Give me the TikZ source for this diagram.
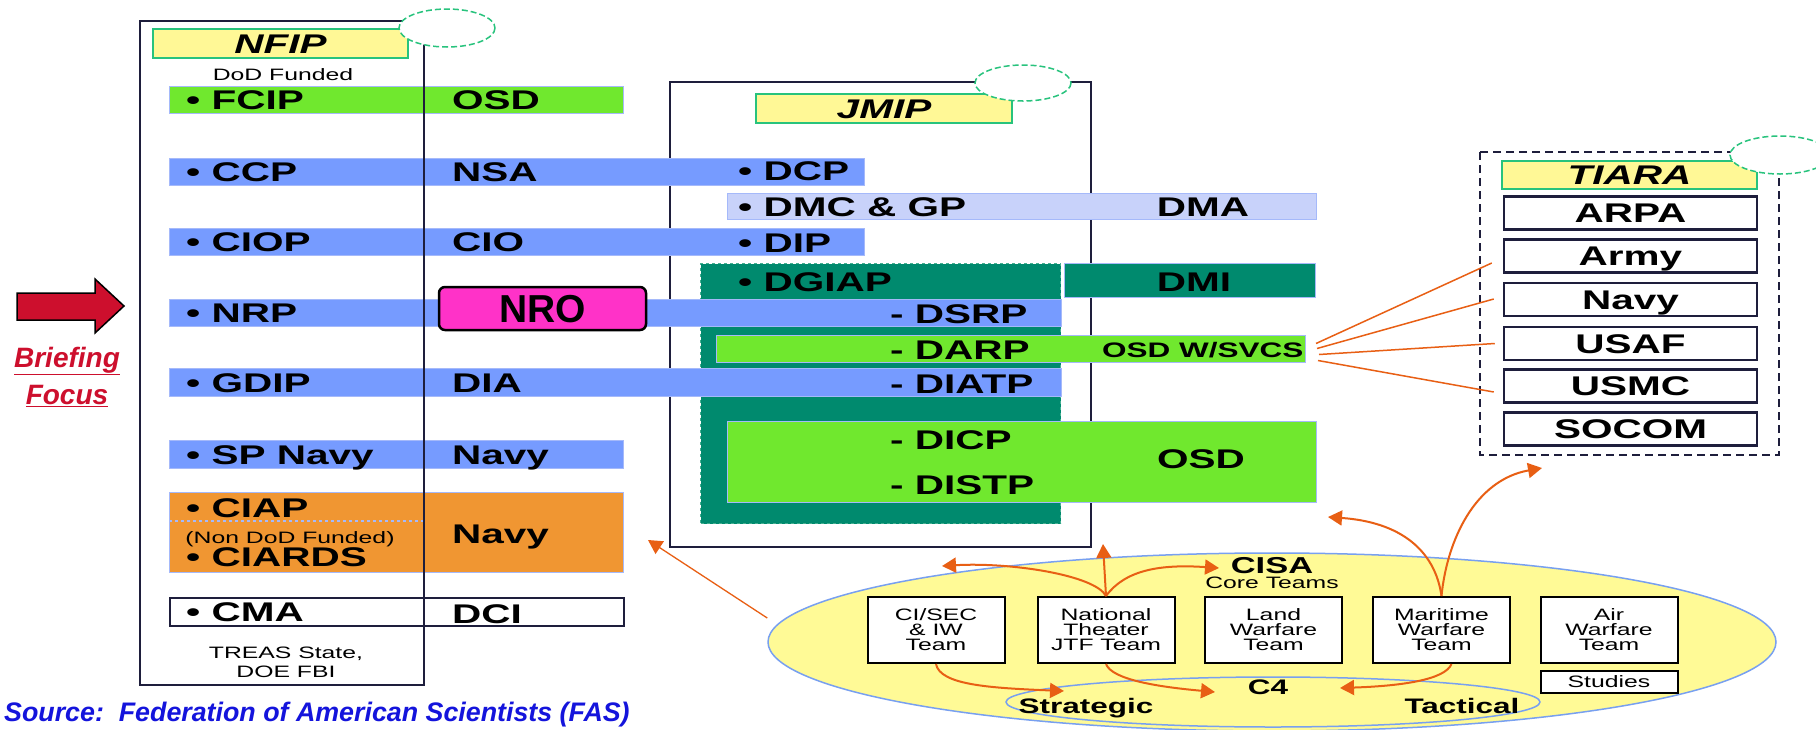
\documentclass[tikz,border=0pt]{standalone}
\usepackage{fontspec}
\setmainfont{Liberation Sans}
\newfontfamily\widefont[FakeStretch=1.5]{Liberation Sans}
\usetikzlibrary{arrows.meta,shapes.geometric}
\definecolor{barblue}{RGB}{118,155,255}
\definecolor{edgeblue}{RGB}{165,185,250}
\definecolor{limegreen}{RGB}{112,232,46}
\definecolor{lavender}{RGB}{200,210,250}
\definecolor{tealfill}{RGB}{0,138,110}
\definecolor{tealedge}{RGB}{70,175,145}
\definecolor{orangebox}{RGB}{240,150,50}
\definecolor{nromagenta}{RGB}{255,50,200}
\definecolor{titleyellow}{RGB}{255,248,150}
\definecolor{tabgreen}{RGB}{40,195,125}
\definecolor{framegray}{RGB}{30,30,60}
\definecolor{cisayellow}{RGB}{255,250,150}
\definecolor{ellblue}{RGB}{120,160,240}
\definecolor{arroworange}{RGB}{232,95,20}
\definecolor{briefred}{RGB}{205,15,45}
\definecolor{sourceblue}{RGB}{20,20,220}
\newcommand{\rowlabelfont}{\widefont\bfseries\fontsize{27}{29}\selectfont}
\newcommand{\tabheadfont}{\widefont\bfseries\itshape\fontsize{27}{29}\selectfont}
\newcommand{\notefont}{\widefont\fontsize{16.5}{18}\selectfont}
\newcommand{\teamlabelfont}{\widefont\fontsize{16.5}{15}\selectfont}
\newcommand{\cisafont}{\widefont\bfseries\fontsize{21}{22}\selectfont}
\newcommand{\cisaheadfont}{\widefont\bfseries\fontsize{23}{24}\selectfont}
\newcommand{\svcsfont}{\widefont\bfseries\fontsize{21}{22}\selectfont}
\newcommand{\nrofont}{\bfseries\fontsize{39}{40}\selectfont}
\newcommand{\focusfont}{\bfseries\itshape\fontsize{28}{30}\selectfont}
\newcommand{\sourcefont}{\bfseries\itshape\fontsize{26.8}{28}\selectfont}

\begin{document}
\begin{tikzpicture}[x=1pt, y=-1pt,
	 barnode/.style={draw=edgeblue, line width=1pt, inner sep=0pt, anchor=north west},
	 frame/.style={draw=framegray, line width=2pt},
	 tabellipse/.style={draw=tabgreen, dash pattern=on 6pt off 3pt, line width=1.5pt, fill=white},
	 titlebox/.style={draw=tabgreen, line width=2pt, fill=titleyellow, inner sep=0pt,
	   text height=19pt, text depth=0pt, font=\tabheadfont},
	 rowtext/.style={inner sep=0pt, font=\rowlabelfont},
	 notetext/.style={inner sep=0pt, font=\notefont},
	 tiarabox/.style={draw=framegray, line width=2.5pt, fill=white, minimum width=253pt,
	   minimum height=33pt, inner sep=0pt, text height=19pt, text depth=0pt, font=\rowlabelfont},
	 teambox/.style={draw=black, line width=2pt, fill=white, minimum width=137pt,
	   minimum height=66pt, inner sep=0pt, align=center, font=\teamlabelfont},
	 cisalabel/.style={inner sep=0pt, font=\cisafont, anchor=base},
	 teamarrow/.style={draw=arroworange, line width=2pt, -{Triangle[length=14pt,width=15pt]}},
	 fanline/.style={draw=arroworange, line width=1.5pt}]
	\useasboundingbox (0,0) rectangle (1816,729);
	\fill[white] (0,0) rectangle (1816,729);

	\draw[frame] (670,82) rectangle (1091,547);
	\node[barnode, draw=tealedge, dashed, fill=tealfill, minimum width=360pt, minimum height=260pt] (dgiapblock) at (700,263) {};

	\node[barnode, fill=limegreen, minimum width=454pt, minimum height=27pt] (fcipbar) at (169,86) {};
	\node[barnode, fill=barblue, minimum width=695pt, minimum height=27pt] (ccpbar) at (169,158) {};
	\node[barnode, fill=lavender, minimum width=589pt, minimum height=26pt] (dmcbar) at (727,193) {};
	\node[barnode, fill=barblue, minimum width=695pt, minimum height=27pt] (ciopbar) at (169,228) {};
	\node[barnode, fill=tealfill, minimum width=251pt, minimum height=34pt] (dmibar) at (1064,263) {};
	\node[barnode, fill=barblue, minimum width=892pt, minimum height=27pt] (nrpbar) at (169,299) {};
	\node[barnode, fill=limegreen, minimum width=589pt, minimum height=27pt] (darpbar) at (716,335) {};
	\node[barnode, fill=barblue, minimum width=892pt, minimum height=28pt] (gdipbar) at (169,368) {};
	\node[barnode, fill=limegreen, minimum width=589pt, minimum height=81pt] (dicpbar) at (727,421) {};
	\node[barnode, fill=barblue, minimum width=454pt, minimum height=28pt] (spnavybar) at (169,440) {};
	\node[barnode, fill=orangebox, minimum width=454pt, minimum height=80pt] (ciapbar) at (169,492) {};
	\draw[edgeblue, dashed, line width=1.2pt] (169,521) -- (424,521);
	\node[barnode, draw=framegray, line width=2pt, fill=white, minimum width=454pt, minimum height=28pt] (cmabar) at (169,597) {};

	\draw[frame] (140,21) rectangle (424,685);
	\draw[frame, dashed, dash pattern=on 8pt off 5pt] (1480,152) rectangle (1779,455);

	\node[titlebox, minimum width=255pt, minimum height=29pt] (nfiptitle) at (280.5,43.5) {NFIP};
	\node[titlebox, minimum width=256pt, minimum height=29pt] (jmiptitle) at (884,108.5) {JMIP};
	\node[titlebox, minimum width=255pt, minimum height=28pt] (tiaratitle) at (1629.5,175) {TIARA};
	\draw[tabellipse] (447,28) ellipse [x radius=48, y radius=19];
	\draw[tabellipse] (1023,83) ellipse [x radius=48, y radius=18];
	\draw[tabellipse] (1780,155) ellipse [x radius=50, y radius=19];

	\node[notetext, anchor=base] (dodfunded) at (283,80) {DoD Funded};
	\node[rowtext, anchor=base west] (fcip) at (186,109) {• FCIP};
	\node[rowtext, anchor=base west] (fcipowner) at (452,109) {OSD};
	\node[rowtext, anchor=base west] (ccp) at (186,181) {• CCP};
	\node[rowtext, anchor=base west] (ccpowner) at (452,181) {NSA};
	\node[rowtext, anchor=base west] (ciop) at (186,251) {• CIOP};
	\node[rowtext, anchor=base west] (ciopowner) at (452,251) {CIO};
	\node[rowtext, anchor=base west] (nrp) at (186,322) {• NRP};
	\node[rowtext, anchor=base west] (gdip) at (186,392) {• GDIP};
	\node[rowtext, anchor=base west] (gdipowner) at (452,392) {DIA};
	\node[rowtext, anchor=base west] (spnavy) at (186,464) {• SP Navy};
	\node[rowtext, anchor=base west] (spnavyowner) at (452,464) {Navy};
	\node[rowtext, anchor=base west] (ciap) at (186,517) {• CIAP};
	\node[notetext, anchor=base] (nondod) at (290,543) {(Non DoD Funded)};
	\node[rowtext, anchor=base west] (ciards) at (186,566) {• CIARDS};
	\node[rowtext, anchor=base west] (ciapowner) at (452,543) {Navy};
	\node[rowtext, anchor=base west] (cma) at (186,621) {• CMA};
	\node[rowtext, anchor=base west] (cmaowner) at (452,623) {DCI};
	\node[notetext, anchor=base] (treas) at (286,658) {TREAS State,};
	\node[notetext, anchor=base] (doefbi) at (286,677) {DOE FBI};

	\node[draw=black, line width=2.5pt, rounded corners=6pt, fill=nromagenta, minimum width=207pt,
	  minimum height=43pt, inner sep=0pt, text height=28pt, text depth=0pt, font=\nrofont] (nro) at (542.5,308.5) {NRO};

	\node[rowtext, anchor=base west] (dcp) at (738,180) {• DCP};
	\node[rowtext, anchor=base west] (dmcgp) at (738,216) {• DMC \& GP};
	\node[rowtext, anchor=base] (dma) at (1203,216) {DMA};
	\node[rowtext, anchor=base west] (dip) at (738,252) {• DIP};
	\node[rowtext, anchor=base west] (dgiap) at (738,291) {• DGIAP};
	\node[rowtext, anchor=base] (dmi) at (1194,291) {DMI};
	\node[rowtext, anchor=base west] (dsrp) at (890,323) {- DSRP};
	\node[rowtext, anchor=base west] (darp) at (890,359) {- DARP};
	\node[inner sep=0pt, font=\svcsfont, anchor=base west] (osdsvcs) at (1102,357) {OSD W/SVCS};
	\node[rowtext, anchor=base west] (diatp) at (890,393) {- DIATP};
	\node[rowtext, anchor=base west] (dicp) at (890,449) {- DICP};
	\node[rowtext, anchor=base west] (distp) at (890,494) {- DISTP};
	\node[rowtext, anchor=base] (dicpowner) at (1201,468) {OSD};

	\node[tiarabox] (arpa) at (1630.5,213) {ARPA};
	\node[tiarabox] (army) at (1630.5,256) {Army};
	\node[tiarabox] (navy) at (1630.5,299.5) {Navy};
	\node[tiarabox] (usaf) at (1630.5,343.5) {USAF};
	\node[tiarabox] (usmc) at (1630.5,386) {USMC};
	\node[tiarabox] (socom) at (1630.5,429) {SOCOM};

	\draw[fanline] ([xshift=10pt,yshift=5.5pt]darpbar.east) -- ([xshift=-11pt,yshift=-7pt]army.west);
	\draw[fanline] ([xshift=11pt,yshift=0.5pt]darpbar.east) -- ([xshift=-9pt,yshift=0.5pt]navy.west);
	\draw[fanline] ([xshift=13pt,yshift=-5.5pt]darpbar.east) -- ([xshift=-8pt]usaf.west);
	\draw[fanline] ([xshift=12pt,yshift=-11.5pt]darpbar.east) -- ([xshift=-9pt,yshift=-6pt]usmc.west);

	\filldraw[fill=briefred, draw=black, line width=1.5pt] (17,293) -- (95,293) -- (95,279) -- (124,306)
	  -- (95,333) -- (95,320) -- (17,320) -- cycle;
	\node[text=briefred, font=\focusfont, inner sep=0pt] (briefing) at (67,361) {\underline{Briefing}};
	\node[text=briefred, font=\focusfont, inner sep=0pt] (focus) at (67,396) {\underline{Focus}};
	\node[text=sourceblue, font=\sourcefont, inner sep=0pt, anchor=base west] (source) at (4,721)
	  {Source:\ \ Federation of American Scientists (FAS)};

	\node[ellipse, draw=ellblue, line width=1.5pt, fill=cisayellow, minimum width=1008pt,
	  minimum height=178pt, inner sep=0pt] (cisa) at (1272,642) {};
	\node[ellipse, draw=ellblue, line width=1.5pt, fill=cisayellow, minimum width=534pt,
	  minimum height=50pt, inner sep=0pt] (c4ring) at (1273,702) {};
	\node[teambox] (cisec) at (936,630) {CI/SEC\\\& IW\\Team};
	\node[teambox] (national) at (1106,630) {National\\Theater\\JTF Team};
	\node[teambox] (land) at (1273.5,630) {Land\\Warfare\\Team};
	\node[teambox] (maritime) at (1441.5,630) {Maritime\\Warfare\\Team};
	\node[teambox] (air) at (1609,630) {Air\\Warfare\\Team};
	\node[teambox, minimum height=22pt] (studies) at (1609,682) {Studies};
	\node[cisalabel, font=\cisaheadfont] (cisatitle) at (1272,573) {CISA};
	\node[notetext, anchor=base] (coreteams) at (1272,588) {Core Teams};
	\node[cisalabel] (c4) at (1268,694) {C4};
	\node[cisalabel] (strategic) at (1086,713) {Strategic};
	\node[cisalabel] (tactical) at (1462,713) {Tactical};

	\coordinate (natleft) at (942,566);
	\coordinate (natup) at (1103,544);
	\coordinate (natright) at (1219,568);
	\coordinate (marleft) at (1328,517);
	\coordinate (martiara) at (1542,468);
	\coordinate (stratend) at (1064,691);
	\coordinate (c4end) at (1215,692);
	\coordinate (tactend) at (1340,688);
	\coordinate (nfipend) at (648,540);

	\draw[teamarrow] (national.north) .. controls (1095,575) and (1010,562) .. (natleft);
	\draw[teamarrow] (national.north) -- (natup);
	\draw[teamarrow] (national.north) .. controls (1125,570) and (1160,564) .. (natright);
	\draw[teamarrow] (maritime.north) .. controls (1435,550) and (1400,522) .. (marleft);
	\draw[teamarrow] (maritime.north) .. controls (1447,540) and (1475,480) .. (martiara);
	\draw[teamarrow] (cisec.south) .. controls (940,685) and (990,688) .. (stratend);
	\draw[teamarrow] (national.south) .. controls (1112,680) and (1160,687) .. (c4end);
	\draw[teamarrow] ([xshift=10pt]maritime.south) .. controls (1445,680) and (1400,686) .. (tactend);
	\draw[teamarrow, line width=1.3pt] ([yshift=24pt]cisa.west) -- (nfipend);
\end{tikzpicture}
\end{document}
